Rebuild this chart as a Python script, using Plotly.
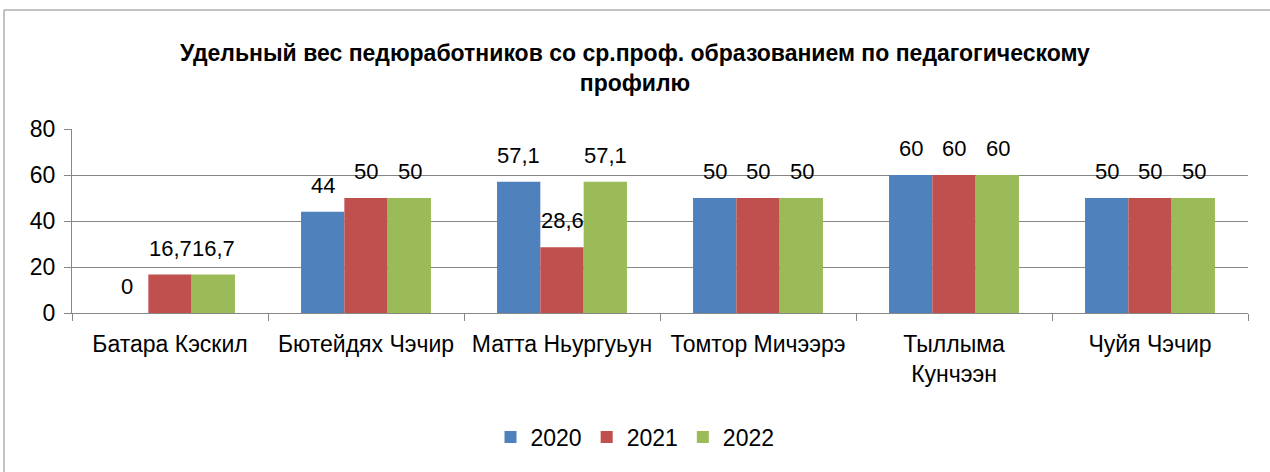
import plotly.graph_objects as go

categories = ["Батара Кэскил", "Бютейдях Чэчир", "Матта Ньургуьун", "Томтор Мичээрэ",
              "Тыллыма<br>Кунчээн", "Чуйя Чэчир"]
years = ["2020", "2021", "2022"]
v2020 = [0, 44, 57.1, 50, 60, 50]
v2021 = [16.7, 50, 28.6, 50, 60, 50]
v2022 = [16.7, 50, 57.1, 50, 60, 50]
series = [v2020, v2021, v2022]
colors = ["#4F81BD", "#C0504D", "#9BBB59"]
yticks = [0, 20, 40, 60, 80]

FONT = "Liberation Sans"
fig = go.Figure()
for name, vals, c in zip(years, series, colors):
    fig.add_trace(go.Bar(name=name, x=categories, y=vals, marker=dict(color=c, line=dict(width=0))))

BAR_PX = 43.5
annotations = []
for i, vals in enumerate(series):
    for cat, v in zip(categories, vals):
        annotations.append(dict(
            x=cat, y=v, xref="x", yref="y", text=f"{v:g}".replace(".", ","),
            showarrow=False, yanchor="bottom", xanchor="center",
            xshift=(i - 1) * BAR_PX, yshift=12,
            font=dict(family=FONT, size=22, color="#000000")))

fig.update_layout(
    width=1270, height=472,
    margin=dict(l=72, r=22, t=129, b=159),
    paper_bgcolor="white", plot_bgcolor="white",
    barmode="group", bargap=0.337, bargroupgap=0,
    separators=",.",
    title=dict(text="<b>Удельный вес педюработников со ср.проф. образованием по педагогическому<br>профилю</b>",
               x=0.5, xref="container", xanchor="center", y=1 - 61 / 472, yref="container", yanchor="middle",
               font=dict(family=FONT, size=23, color="#000000")),
    font=dict(family=FONT, size=22, color="#000000"),
    xaxis=dict(type="category", showline=True, linecolor="#868686", linewidth=1,
               ticks="outside", tickson="boundaries", ticklen=7, tickcolor="#868686",
               showgrid=False, tickfont=dict(family=FONT, size=23), ticklabelstandoff=10),
    yaxis=dict(range=[0, 80], tickvals=yticks, showline=True, linecolor="#868686", linewidth=1,
               ticks="outside", ticklen=7, tickcolor="#868686",
               showgrid=True, gridcolor="#868686", gridwidth=1, zeroline=False,
               tickfont=dict(family=FONT, size=23), ticklabelstandoff=4),
    legend=dict(orientation="h", x=0.5, xref="container", xanchor="center", y=35 / 472,
                yref="container", yanchor="middle", font=dict(family=FONT, size=23),
                itemwidth=30, traceorder="normal"),
    annotations=annotations,
    shapes=[
        dict(type="line", xref="paper", yref="paper", x0=(4 - 72) / 1176, x1=(1270 - 72) / 1176,
             y0=(313 - 10) / 184, y1=(313 - 10) / 184, line=dict(color="#868686", width=1)),
        dict(type="line", xref="paper", yref="paper", x0=(4 - 72) / 1176, x1=(4 - 72) / 1176,
             y0=(313 - 10) / 184, y1=(313 - 472) / 184, line=dict(color="#868686", width=1)),
    ],
)
fig.write_html("out.html", config={"displayModeBar": False},
               post_script="document.body.style.margin='0';")
